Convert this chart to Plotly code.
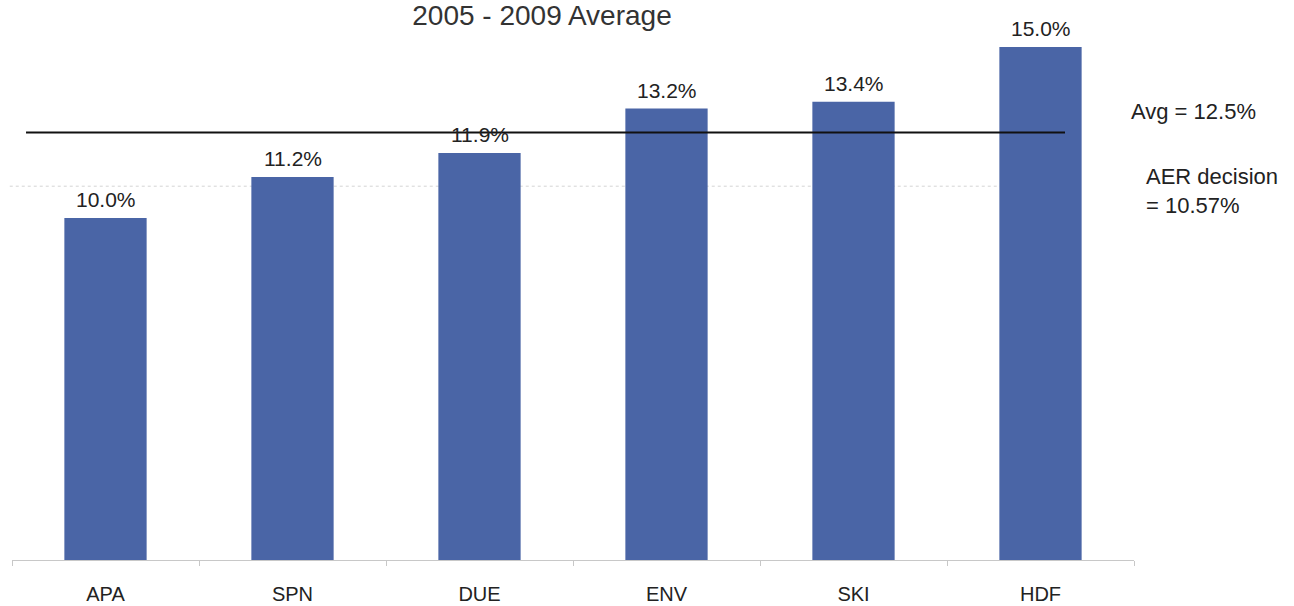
import plotly.graph_objects as go

# ---- data ----
categories = ["APA", "SPN", "DUE", "ENV", "SKI", "HDF"]
values = [10.0, 11.2, 11.9, 13.2, 13.4, 15.0]
avg_value = 12.5
aer_value = 10.57
aer_line_level = 10.93  # where the dotted AER line is drawn in the picture
title_text = "2005 - 2009 Average"

bar_color = "#4a65a6"
text_color = "#222222"
font_family = "Liberation Sans, Arial, sans-serif"

fig = go.Figure()
fig.add_trace(go.Bar(
    x=categories, y=values,
    marker=dict(color=bar_color, line=dict(width=0)),
    hoverinfo="skip",
))

annotations = []
for c, v in zip(categories, values):
    annotations.append(dict(
        x=c, y=v, xref="x", yref="y",
        text=f"{v:.1f}%", showarrow=False,
        yanchor="bottom", yshift=5,
        font=dict(size=21, color=text_color, family=font_family),
    ))

annotations.append(dict(
    x=1.0, xref="paper", y=avg_value, yref="y",
    text=f"Avg = {avg_value}%", showarrow=False,
    xanchor="left", yanchor="middle", yshift=21, xshift=-5,
    font=dict(size=22, color=text_color, family=font_family),
))
annotations.append(dict(
    x=1.0, xref="paper", y=aer_line_level, yref="y",
    text=f"AER decision<br>= {aer_value}%", showarrow=False,
    xanchor="left", yanchor="middle", align="left", yshift=-5, xshift=10,
    font=dict(size=22, color=text_color, family=font_family),
))

shapes = [
    dict(type="line", xref="paper", yref="y",
         x0=0.0125, x1=0.9385, y0=avg_value, y1=avg_value,
         line=dict(color="#111111", width=2)),
    dict(type="line", xref="paper", yref="y",
         x0=-0.002, x1=0.941, y0=aer_line_level, y1=aer_line_level,
         line=dict(color="#d4d4d4", width=1, dash="dot"), layer="below"),
]

fig.update_layout(
    width=1294, height=606,
    margin=dict(l=12, r=160, t=0, b=46),
    paper_bgcolor="white", plot_bgcolor="white",
    showlegend=False,
    bargap=0.56,
    title=dict(text=title_text, x=542 / 1294, xref="container", xanchor="center",
               y=1 - 15 / 606, yref="container", yanchor="middle",
               font=dict(size=28, color="#333333", family=font_family)),
    annotations=annotations,
    shapes=shapes,
    font=dict(family=font_family, color=text_color),
)
fig.update_xaxes(
    type="category",
    showline=True, linecolor="#c8c8c8", linewidth=1,
    ticks="outside", tickson="boundaries", ticklen=5, tickcolor="#c8c8c8",
    showgrid=False, zeroline=False,
    tickfont=dict(size=20, color=text_color, family=font_family),
    ticklabelstandoff=16,
)
fig.update_yaxes(
    range=[0, 560 / 34.2], visible=False, showgrid=False, zeroline=False,
)

fig.write_html("out.html")
